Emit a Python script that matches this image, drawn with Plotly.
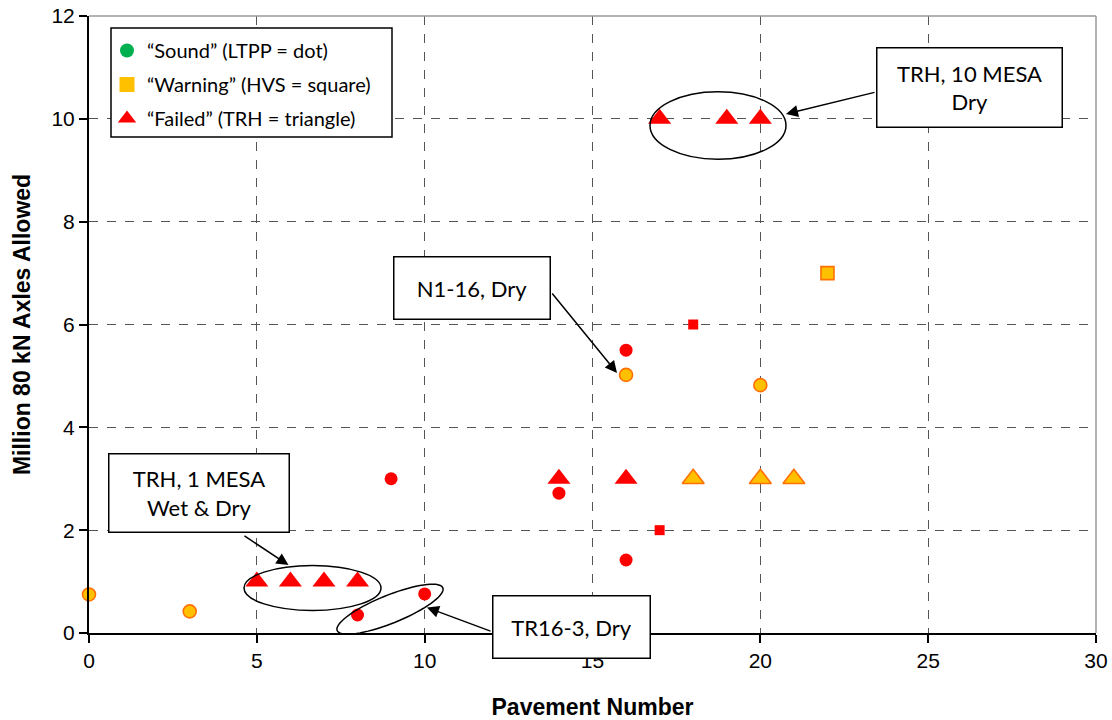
import numpy as np
import plotly.graph_objects as go

# ---------------- data ----------------
red_circle_x = [9, 14, 16, 16, 8, 10]
red_circle_y = [3.0, 2.72, 5.5, 1.42, 0.35, 0.76]

yellow_circle_x = [0, 3, 16, 20]
yellow_circle_y = [0.75, 0.42, 5.02, 4.82]

red_triangle_x = [5, 6, 7, 8, 14, 16, 17, 19, 20]
red_triangle_y = [1, 1, 1, 1, 3, 3, 10, 10, 10]

yellow_triangle_x = [18, 20, 21]
yellow_triangle_y = [3, 3, 3]

red_square_x = [17, 18]
red_square_y = [2.0, 6.0]

yellow_square_x = [22]
yellow_square_y = [7.0]

legend_labels = ["\u201cSound\u201d (LTPP = dot)",
                 "\u201cWarning\u201d (HVS = square)",
                 "\u201cFailed\u201d (TRH = triangle)"]

x_title = "Pavement Number"
y_title = "Million 80 kN Axles Allowed"

# ---------------- styles ----------------
RED = "#FF0000"
YEL = "#FFC000"
ORG = "#FF7000"
GREEN = "#00B050"

W, H = 1112, 720
ML, MR, MT, MB = 89, 16, 16, 87
PW, PH = W - ML - MR, H - MT - MB
XR, YR = 30, 12
PX_X = PW / XR
PX_Y = PH / YR

fig = go.Figure()

# legend-only entries
leg_syms = [("circle", GREEN, 14), ("square", YEL, 15), ("triangle-up", RED, 17)]
for i, (lab, (sym, col, sz)) in enumerate(zip(legend_labels, leg_syms)):
    fig.add_trace(go.Scatter(x=[None], y=[None], mode="markers", name=lab,
                             legendgroup=f"g{i}",
                             marker=dict(symbol=sym, color=col, size=sz,
                                         line=dict(width=0))))

def add(xs, ys, sym, col, size, lc=None, lw=0):
    fig.add_trace(go.Scatter(x=xs, y=ys, mode="markers", showlegend=False,
                             cliponaxis=False, hoverinfo="x+y",
                             marker=dict(symbol=sym, color=col, size=size,
                                         line=dict(color=lc or col, width=lw))))

add(red_circle_x, red_circle_y, "circle", RED, 13)
add(yellow_circle_x, yellow_circle_y, "circle", YEL, 13, ORG, 1.6)
add(red_square_x, red_square_y, "square", RED, 10)
add(yellow_square_x, yellow_square_y, "square", YEL, 13, ORG, 1.6)
add(red_triangle_x, red_triangle_y, "triangle-up", RED, 20)
add(yellow_triangle_x, yellow_triangle_y, "triangle-up", YEL, 19, ORG, 1.6)

# ---------------- helpers for annotation geometry ----------------
def d2x(px):
    return (px - ML) / PX_X

def d2y(py):
    return (MT + PH - py) / PX_Y

shapes = []
# plot top / right gray border
shapes.append(dict(type="line", xref="paper", yref="paper", x0=0, x1=1, y0=1, y1=1,
                   line=dict(color="#9A9A9A", width=1.5), layer="above"))
shapes.append(dict(type="line", xref="paper", yref="paper", x0=1, x1=1, y0=0, y1=1,
                   line=dict(color="#9A9A9A", width=1.5), layer="above"))
# legend box
shapes.append(dict(type="rect", xref="paper", yref="paper",
                   x0=(111 - ML) / PW, x1=(392 - ML) / PW,
                   y0=(MT + PH - 137) / PH, y1=(MT + PH - 28) / PH,
                   line=dict(color="black", width=1.5), fillcolor="white", layer="above"))
# ellipses
shapes.append(dict(type="circle", xref="x", yref="y",
                   x0=d2x(650), x1=d2x(786), y0=d2y(159.3), y1=d2y(91.7),
                   line=dict(color="black", width=1.5)))
shapes.append(dict(type="circle", xref="x", yref="y",
                   x0=d2x(244), x1=d2x(381), y0=d2y(610.5), y1=d2y(565.5),
                   line=dict(color="black", width=1.5)))
# tilted ellipse
cx, cy = d2x(390), d2y(609.2)
a, b, th = 57.0, 14.0, np.deg2rad(22)
t = np.linspace(0, 2 * np.pi, 73)
dxp = a * np.cos(t) * np.cos(th) - b * np.sin(t) * np.sin(th)
dyp = a * np.cos(t) * np.sin(th) + b * np.sin(t) * np.cos(th)
ex = cx + dxp / PX_X
ey = cy + dyp / PX_Y
path = "M " + " L ".join(f"{x:.4f},{y:.4f}" for x, y in zip(ex, ey)) + " Z"
shapes.append(dict(type="path", xref="x", yref="y", path=path,
                   line=dict(color="black", width=1.5)))

annotations = []
BOXFONT = dict(family="Lato, Carlito, 'Open Sans', sans-serif", size=22, color="black")

def box(text, px0, py0, px1, py1):
    bw, pad = 1.5, 1
    annotations.append(dict(text=text, xref="x", yref="y",
                            x=d2x((px0 + px1) / 2), y=d2y((py0 + py1) / 2),
                            xanchor="center", yanchor="middle", showarrow=False,
                            width=px1 - px0 - 2 * (bw + pad),
                            height=py1 - py0 - 2 * (bw + pad),
                            align="center", valign="middle",
                            bordercolor="black", borderwidth=bw, borderpad=pad,
                            bgcolor="white", font=BOXFONT))

def arrow(tx, ty, hx, hy):
    annotations.append(dict(text="", xref="x", yref="y", axref="x", ayref="y",
                            x=d2x(hx), y=d2y(hy), ax=d2x(tx), ay=d2y(ty),
                            showarrow=True, arrowhead=2, arrowsize=1.6,
                            arrowwidth=1.5, arrowcolor="black", standoff=0))

box("TRH, 10 MESA<br>Dry", 876, 47, 1063, 128)
box("N1-16, Dry", 393, 256, 551, 320)
box("TRH, 1 MESA<br>Wet &amp; Dry", 108, 453, 290, 533)
box("TR16-3, Dry", 492, 595, 651, 659)

arrow(876, 92, 786, 114)
arrow(551, 292, 617, 373)
arrow(243, 535, 288.5, 565)
arrow(492, 631.7, 427, 607.5)

TICKFONT = dict(family="Liberation Sans, Arial, sans-serif", size=21, color="black")
TITLEFONT = dict(family="Liberation Sans, Arial, sans-serif", size=23, color="black",
                 weight="bold")

fig.update_layout(
    width=W, height=H,
    margin=dict(l=ML, r=MR, t=MT, b=MB, autoexpand=False),
    paper_bgcolor="white", plot_bgcolor="white",
    shapes=shapes, annotations=annotations,
    showlegend=True,
    legend=dict(x=(107 - ML) / PW, y=(MT + PH - 31) / PH, xanchor="left", yanchor="top",
                bgcolor="rgba(0,0,0,0)", borderwidth=0, tracegroupgap=5,
                font=dict(family="Lato, Carlito, 'Open Sans', sans-serif", size=20,
                          color="black")),
    xaxis=dict(range=[0, XR], dtick=5, tick0=0, showgrid=True, gridcolor="#555555",
               griddash="dash", gridwidth=1.2, zeroline=False,
               showline=True, linecolor="black", linewidth=2,
               ticks="outside", ticklen=8, tickwidth=1.5, tickcolor="black",
               tickfont=TICKFONT,
               title=dict(text=x_title, font=TITLEFONT, standoff=28)),
    yaxis=dict(range=[0, YR], dtick=2, tick0=0, showgrid=True, gridcolor="#555555",
               griddash="dash", gridwidth=1.2, zeroline=False,
               showline=True, linecolor="black", linewidth=2,
               ticks="outside", ticklen=8, tickwidth=1.5, tickcolor="black",
               tickfont=TICKFONT,
               title=dict(text=y_title, font=TITLEFONT, standoff=14)),
)

fig.write_html("out.html", config={"displayModeBar": False},
               post_script="document.body.style.margin='0px';document.body.style.overflow='hidden';")
